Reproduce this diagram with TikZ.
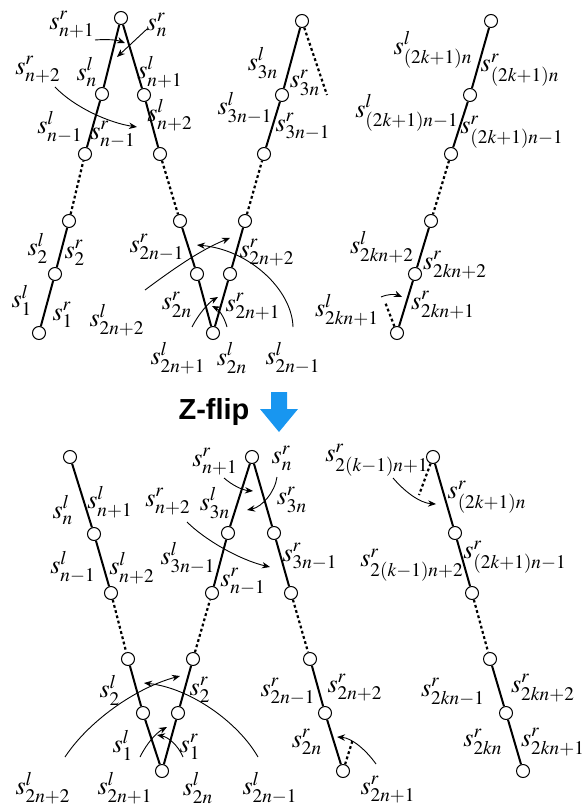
\documentclass[tikz,border=0pt]{standalone}
\usepackage{mathptmx}
\usepackage[no-math]{fontspec}
\newfontfamily\flipfont{Liberation Sans}
\usetikzlibrary{arrows.meta}
\definecolor{flipBlue}{RGB}{24,150,240}

\begin{document}
\begin{tikzpicture}[
    x=0.5pt, y=-0.5pt,
    font=\fontsize{13}{15}\selectfont,
    vtx/.style={circle, draw, fill=white, line width=0.5pt, inner sep=0pt, minimum size=6.5pt},
    bond/.style={line width=1pt},
    gap/.style={line width=1.1pt, dash pattern=on 1.4pt off 1.3pt},
    rot/.style={-{Stealth[length=4pt,width=3.2pt]}, line width=0.45pt},
    lab/.style={inner sep=0pt}
]
\useasboundingbox (0,0) rectangle (587,806);

% upper row: strand before the flip
\node[vtx] (u0) at (121,18) {};
\node[vtx] (ua1) at (102,94) {};
\node[vtx] (ua2) at (85,154) {};
\node[vtx] (ua3) at (69,221) {};
\node[vtx] (ua4) at (55,274) {};
\node[vtx] (ua5) at (39,333) {};
\node[vtx] (ub1) at (144,95) {};
\node[vtx] (ub2) at (160,154) {};
\node[vtx] (ub3) at (180,221) {};
\node[vtx] (ub4) at (197,274) {};
\node[vtx] (ubot) at (213,333) {};
\node[vtx] (uc4) at (230,274) {};
\node[vtx] (uc3) at (245,221) {};
\node[vtx] (uc2) at (264,154) {};
\node[vtx] (uc1) at (282,95) {};
\node[vtx] (uc0) at (302,21) {};
\coordinate (ucend) at (327,95);
\node[vtx] (ud0) at (491,21) {};
\node[vtx] (ud1) at (470,95) {};
\node[vtx] (ud2) at (451,154) {};
\node[vtx] (ud3) at (431,221) {};
\node[vtx] (ud4) at (415,274) {};
\node[vtx] (ud5) at (397,333) {};
\coordinate (udend) at (385,302);

\draw[bond] (ua5) -- (ua4) -- (ua3);
\draw[gap] (ua3) -- (ua2);
\draw[bond] (ua2) -- (ua1) -- (u0) -- (ub1) -- (ub2);
\draw[gap] (ub2) -- (ub3);
\draw[bond] (ub3) -- (ub4) -- (ubot) -- (uc4) -- (uc3);
\draw[gap] (uc3) -- (uc2);
\draw[bond] (uc2) -- (uc1) -- (uc0);
\draw[gap] (uc0) -- (ucend);
\draw[bond] (ud0) -- (ud1) -- (ud2);
\draw[gap] (ud2) -- (ud3);
\draw[bond] (ud3) -- (ud4) -- (ud5);
\draw[gap] (ud5) -- (udend);

\node[lab] (t1) at (72,25) {$s^{r}_{n+1}$};
\node[lab] (t2) at (157,25) {$s^{r}_{n}$};
\node[lab] (t3) at (87,72) {$s^{l}_{n}$};
\node[lab] (t4) at (160,72) {$s^{l}_{n+1}$};
\node[lab] (t5) at (38,70) {$s^{r}_{n+2}$};
\node[lab] (t6) at (60,127) {$s^{l}_{n-1}$};
\node[lab] (t7) at (113,135) {$s^{r}_{n-1}$};
\node[lab] (t8) at (170,115) {$s^{l}_{n+2}$};
\node[lab] (t9) at (263,63) {$s^{l}_{3n}$};
\node[lab] (t10) at (305,83) {$s^{r}_{3n}$};
\node[lab] (t11) at (245,108) {$s^{l}_{3n-1}$};
\node[lab] (t12) at (303,127) {$s^{r}_{3n-1}$};
\node[lab] (t13) at (433,50) {$s^{l}_{(2k+1)n}$};
\node[lab] (t14) at (520,70) {$s^{r}_{(2k+1)n}$};
\node[lab] (t15) at (407,113) {$s^{l}_{(2k+1)n-1}$};
\node[lab] (t16) at (512,132) {$s^{r}_{(2k+1)n-1}$};
\node[lab] (t17) at (38,248) {$s^{l}_{2}$};
\node[lab] (t18) at (75,253) {$s^{r}_{2}$};
\node[lab] (t19) at (22,300) {$s^{l}_{1}$};
\node[lab] (t20) at (63,315) {$s^{r}_{1}$};
\node[lab] (t21) at (117,320) {$s^{l}_{2n+2}$};
\node[lab] (t22) at (157,248) {$s^{r}_{2n-1}$};
\node[lab] (t23) at (267,253) {$s^{r}_{2n+2}$};
\node[lab] (t24) at (177,305) {$s^{r}_{2n}$};
\node[lab] (t25) at (253,307) {$s^{r}_{2n+1}$};
\node[lab] (t26) at (178,358) {$s^{l}_{2n+1}$};
\node[lab] (t27) at (232,358) {$s^{l}_{2n}$};
\node[lab] (t28) at (293,358) {$s^{l}_{2n-1}$};
\node[lab] (t29) at (382,247) {$s^{l}_{2kn+2}$};
\node[lab] (t30) at (455,265) {$s^{r}_{2kn+2}$};
\node[lab] (t31) at (347,310) {$s^{l}_{2kn+1}$};
\node[lab] (t32) at (443,305) {$s^{r}_{2kn+1}$};

% rotation arrows, upper row
\coordinate (ra1) at (95,40);   \coordinate (ra2) at (125,43);
\coordinate (rb1) at (147,29);  \coordinate (rb2) at (117,57);
\coordinate (rc1) at (55,87);   \coordinate (rc2) at (137,127);
\coordinate (rd1) at (145,290); \coordinate (rd2) at (230,238);
\coordinate (re1) at (293,327); \coordinate (re2) at (197,245);
\coordinate (rf1) at (192,327); \coordinate (rf2) at (218,297);
\coordinate (rg1) at (227,327); \coordinate (rg2) at (212,306);
\coordinate (rh1) at (381,297); \coordinate (rh2) at (402,297);
\draw[rot] (ra1) .. controls (108,39) and (117,40) .. (ra2);
\draw[rot] (rb1) -- (rb2);
\draw[rot] (rc1) .. controls (75,108) and (110,123) .. (rc2);
\draw[rot] (rd1) .. controls (172,270) and (200,250) .. (rd2);
\draw[rot] (re1) .. controls (292,290) and (250,250) .. (re2);
\draw[rot] (rf1) .. controls (198,315) and (208,303) .. (rf2);
\draw[rot] (rg1) .. controls (224,316) and (218,309) .. (rg2);
\draw[rot] (rh1) .. controls (388,294) and (395,294) .. (rh2);

% the flip
\node[font=\flipfont\fontsize{14.5}{17}\bfseries\selectfont] (zflip) at (214,412) {Z-flip};
\fill[flipBlue] (271,392) -- (287,392) -- (287,409) -- (298,409) -- (279,432) -- (260,409) -- (271,409) -- cycle;

% lower row: strand after the flip
\node[vtx] (la0) at (70,457) {};
\node[vtx] (la1) at (94,534) {};
\node[vtx] (la2) at (111,593) {};
\node[vtx] (la3) at (128,659) {};
\node[vtx] (la4) at (143,713) {};
\node[vtx] (lbot) at (162,771) {};
\node[vtx] (lb4) at (178,713) {};
\node[vtx] (lb3) at (193,659) {};
\node[vtx] (lb2) at (212,593) {};
\node[vtx] (lb1) at (228,533) {};
\node[vtx] (lc0) at (252,457) {};
\node[vtx] (lc1) at (274,533) {};
\node[vtx] (lc2) at (291,593) {};
\node[vtx] (lc3) at (310,659) {};
\node[vtx] (lc4) at (325,713) {};
\node[vtx] (lc5) at (343,771) {};
\coordinate (lcend) at (353,739);
\node[vtx] (ld0) at (433,457) {};
\node[vtx] (ld1) at (455,533) {};
\node[vtx] (ld2) at (472,593) {};
\node[vtx] (ld3) at (490,659) {};
\node[vtx] (ld4) at (506,713) {};
\node[vtx] (ld5) at (523,771) {};
\coordinate (ldend) at (419,495);

\draw[bond] (la0) -- (la1) -- (la2);
\draw[gap] (la2) -- (la3);
\draw[bond] (la3) -- (la4) -- (lbot) -- (lb4) -- (lb3);
\draw[gap] (lb3) -- (lb2);
\draw[bond] (lb2) -- (lb1) -- (lc0) -- (lc1) -- (lc2);
\draw[gap] (lc2) -- (lc3);
\draw[bond] (lc3) -- (lc4) -- (lc5);
\draw[gap] (lc5) -- (lcend);
\draw[gap] (ld0) -- (ldend);
\draw[bond] (ld0) -- (ld1) -- (ld2);
\draw[gap] (ld2) -- (ld3);
\draw[bond] (ld3) -- (ld4) -- (ld5);

\node[lab] (b1) at (63,510) {$s^{l}_{n}$};
\node[lab] (b2) at (110,502) {$s^{l}_{n+1}$};
\node[lab] (b3) at (73,567) {$s^{l}_{n-1}$};
\node[lab] (b4) at (132,568) {$s^{l}_{n+2}$};
\node[lab] (b5) at (215,462) {$s^{r}_{n+1}$};
\node[lab] (b6) at (282,458) {$s^{r}_{n}$};
\node[lab] (b7) at (215,503) {$s^{l}_{3n}$};
\node[lab] (b8) at (292,500) {$s^{r}_{3n}$};
\node[lab] (b9) at (168,502) {$s^{r}_{n+2}$};
\node[lab] (b10) at (188,558) {$s^{l}_{3n-1}$};
\node[lab] (b11) at (243,582) {$s^{r}_{n-1}$};
\node[lab] (b12) at (310,557) {$s^{r}_{3n-1}$};
\node[lab] (b13) at (377,460) {$s^{r}_{2(k-1)n+1}$};
\node[lab] (b14) at (487,497) {$s^{r}_{(2k+1)n}$};
\node[lab] (b15) at (412,565) {$s^{r}_{2(k-1)n+2}$};
\node[lab] (b16) at (515,557) {$s^{r}_{(2k+1)n-1}$};
\node[lab] (b17) at (110,690) {$s^{l}_{2}$};
\node[lab] (b18) at (200,690) {$s^{r}_{2}$};
\node[lab] (b19) at (123,745) {$s^{l}_{1}$};
\node[lab] (b20) at (190,747) {$s^{r}_{1}$};
\node[lab] (b21) at (43,788) {$s^{l}_{2n+2}$};
\node[lab] (b22) at (125,788) {$s^{l}_{2n+1}$};
\node[lab] (b23) at (198,788) {$s^{l}_{2n}$};
\node[lab] (b24) at (270,788) {$s^{l}_{2n-1}$};
\node[lab] (b25) at (288,692) {$s^{r}_{2n-1}$};
\node[lab] (b26) at (355,688) {$s^{r}_{2n+2}$};
\node[lab] (b27) at (307,742) {$s^{r}_{2n}$};
\node[lab] (b28) at (388,790) {$s^{r}_{2n+1}$};
\node[lab] (b29) at (453,692) {$s^{r}_{2kn-1}$};
\node[lab] (b30) at (543,688) {$s^{r}_{2kn+2}$};
\node[lab] (b31) at (483,742) {$s^{r}_{2kn}$};
\node[lab] (b32) at (553,742) {$s^{r}_{2kn+1}$};

% rotation arrows, lower row
\coordinate (qa1) at (224,478); \coordinate (qa2) at (253,491);
\coordinate (qb1) at (277,477); \coordinate (qb2) at (247,510);
\coordinate (qc1) at (187,522); \coordinate (qc2) at (270,567);
\coordinate (qd1) at (393,478); \coordinate (qd2) at (436,504);
\coordinate (qe1) at (65,757);  \coordinate (qe2) at (180,676);
\coordinate (qf1) at (258,757); \coordinate (qf2) at (144,683);
\coordinate (qg1) at (140,757); \coordinate (qg2) at (167,727);
\coordinate (qh1) at (183,757); \coordinate (qh2) at (157,735);
\coordinate (qi1) at (376,764); \coordinate (qi2) at (337,737);
\draw[rot] (qa1) .. controls (232,485) and (242,490) .. (qa2);
\draw[rot] (qb1) .. controls (275,492) and (262,507) .. (qb2);
\draw[rot] (qc1) .. controls (205,540) and (240,560) .. (qc2);
\draw[rot] (qd1) .. controls (405,492) and (420,503) .. (qd2);
\draw[rot] (qe1) .. controls (88,722) and (135,688) .. (qe2);
\draw[rot] (qf1) .. controls (238,722) and (190,688) .. (qf2);
\draw[rot] (qg1) .. controls (147,743) and (156,733) .. (qg2);
\draw[rot] (qh1) .. controls (178,745) and (168,737) .. (qh2);
\draw[rot] (qi1) .. controls (366,750) and (352,738) .. (qi2);
\end{tikzpicture}
\end{document}
